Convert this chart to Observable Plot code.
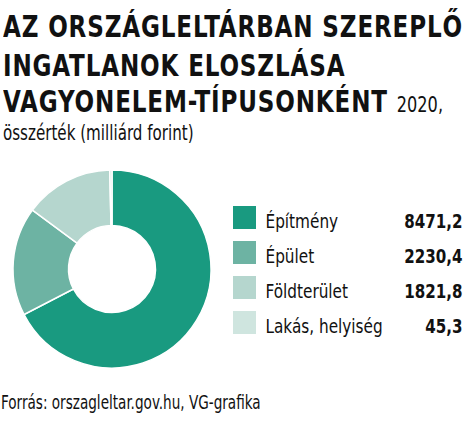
<!DOCTYPE html>
<html>
<head>
<meta charset="utf-8">
<script src="https://cdn.jsdelivr.net/npm/d3@7"></script>
<script src="https://cdn.jsdelivr.net/npm/@observablehq/plot@0.6"></script>
<style>
  html, body { margin: 0; padding: 0; background: #fff; }
  body { width: 474px; height: 423px; position: relative; overflow: hidden;
         font-family: "DejaVu Sans Condensed", "DejaVu Sans", sans-serif; color: #111; }
  .tl { position: absolute; left: 3px; font-weight: bold; font-size: 30px; line-height: 30px; letter-spacing: 1px; white-space: nowrap; transform-origin: 0 0; }
  .tl .sub { font-weight: normal; font-size: 21px; letter-spacing: 0; }
  #subline { position: absolute; left: 3px; top: 121px; font-size: 21px; line-height: 24px; white-space: nowrap; transform-origin: 0 0; transform: scaleX(0.8); }
  #chart { position: absolute; left: 0; top: 160px; }
  #caption { position: absolute; left: 1px; top: 391px; font-size: 19px; line-height: 22px; white-space: nowrap; transform-origin: 0 0; transform: scaleX(0.795); }
</style>
</head>
<body>
<div class="tl" id="t1" style="top:12px">AZ ORSZÁGLELTÁRBAN SZEREPLŐ</div>
<div class="tl" id="t2" style="top:51px">INGATLANOK ELOSZLÁSA</div>
<div class="tl" id="t3" style="top:87px">VAGYONELEM-TÍPUSONKÉNT <span class="sub">2020,</span></div>
<div id="subline">összérték (milliárd forint)</div>
<div id="chart"></div>
<div id="caption">Forrás: orszagleltar.gov.hu, VG-grafika</div>
<script>
const categories = ["Építmény", "Épület", "Földterület", "Lakás, helyiség"];
const values = [8471.2, 2230.4, 1821.8, 45.3];
const valueLabels = ["8471,2", "2230,4", "1821,8", "45,3"];
const colors = ["#199a80", "#6db3a3", "#b5d6ce", "#cfe5df"];

const data = categories.map((c, i) => ({category: c, value: values[i], label: valueLabels[i]}));

// fit the title to the reference's condensed lettering
const t1 = document.getElementById("t1");
const s = 460 / t1.getBoundingClientRect().width;
for (const id of ["t1", "t2", "t3"]) document.getElementById(id).style.transform = `scaleX(${s})`;

function donut(index, scales, channels, dimensions) {
  const g = d3.create("svg:g");
  const cx = scales.x(112), cy = 109;
  const pie = d3.pie().sort(null).value(d => d.value)(data);
  const arc = d3.arc().innerRadius(43.5).outerRadius(99);
  g.selectAll("path").data(pie).join("path")
    .attr("transform", `translate(${cx},${cy})`)
    .attr("d", arc)
    .attr("fill", d => scales.color(d.data.category))
    .attr("stroke", "#fff")
    .attr("stroke-width", 1.5)
    .attr("stroke-linejoin", "round");
  return g.node();
}

const plot = Plot.plot({
  width: 474,
  height: 225,
  margin: 0,
  style: {fontFamily: '"DejaVu Sans Condensed", "DejaVu Sans", sans-serif', color: "#111", background: "#fff"},
  x: {domain: [0, 474], range: [0, 474], axis: null},
  y: {type: "band", domain: categories, range: [39.5, 179.5], padding: 0, axis: null},
  color: {domain: categories, range: colors},
  marks: [
    donut,
    Plot.barX(data, {x1: 233, x2: 256, y: "category", fill: "category", insetTop: 6, insetBottom: 6}),
    Plot.text(data, {x: 265, y: "category", text: "category", textAnchor: "start", fontSize: 20, dy: 4, fill: "#111"}),
    Plot.text(data, {x: 462, y: "category", text: "label", textAnchor: "end", fontSize: 20, dy: 4, fontWeight: "bold", fill: "#111"})
  ]
});

function condense(texts, k) {
  plot.querySelectorAll("text").forEach(t => {
    if (!texts.includes(t.textContent)) return;
    const tr = t.getAttribute("transform");
    if (tr) t.setAttribute("transform", tr + ` scale(${k},1)`);
    else {
      const x = +t.getAttribute("x") || 0, y = +t.getAttribute("y") || 0;
      t.removeAttribute("x"); t.removeAttribute("y");
      t.setAttribute("transform", `translate(${x},${y}) scale(${k},1)`);
    }
  });
}
condense(categories, 0.85);
condense(valueLabels, 0.84);
document.getElementById("chart").appendChild(plot);
</script>
</body>
</html>
